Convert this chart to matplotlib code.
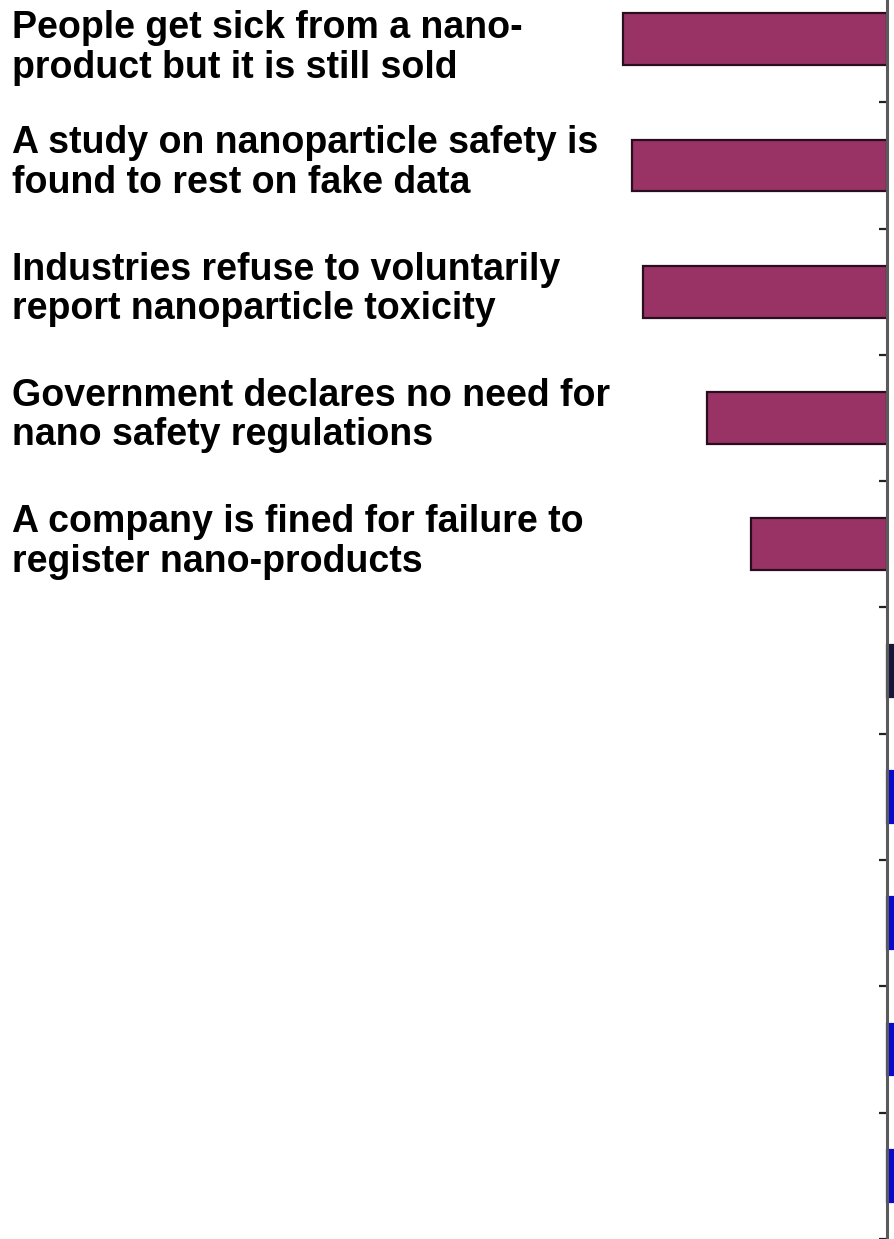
import matplotlib.pyplot as plt
from matplotlib.transforms import blended_transform_factory

plt.rcParams['font.family'] = ['Liberation Sans', 'DejaVu Sans']

# scenario labels (only the top five are printed)
labels = [
    "People get sick from a nano-\nproduct but it is still sold",
    "A study on nanoparticle safety is\nfound to rest on fake data",
    "Industries refuse to voluntarily\nreport nanoparticle toxicity",
    "Government declares no need for\nnano safety regulations",
    "A company is fined for failure to\nregister nano-products",
    "", "", "", "", "",
]
# percentages; negatives run left of the axis
values = [-60.0, -58.0, -55.5, -41.0, -31.0, 18.0, 34.0, 31.0, 28.0, 24.0]
colors = ['#993366'] * 5 + ['#16163a'] + ['#0a0acc'] * 4
edges = ['#2a0d1e'] * 5 + ['#16163a'] + ['#0a0acc'] * 4

fig = plt.figure(figsize=(8.95, 12.39), dpi=100)
# axes runs a bit past the top edge so the rows line up with the ticks
ax = fig.add_axes([600 / 895, 0.0, 295 / 895, 1263 / 1239])

ypos = list(range(len(values)))
ax.barh(ypos, values, height=0.41, color=colors, edgecolor=edges,
        linewidth=1.6, zorder=2)

ax.set_xlim(-65.2, 1.82)
ax.set_ylim(9.5, -0.5)

for s in ['top', 'right', 'bottom']:
    ax.spines[s].set_visible(False)
ax.spines['left'].set_position(('data', 0))
ax.spines['left'].set_color('#5a5a5a')
ax.spines['left'].set_linewidth(2.2)
ax.spines['left'].set_zorder(3)

ax.set_xticks([])
ax.set_yticks([i + 0.5 for i in range(len(values))])
ax.set_yticklabels([])
ax.tick_params(axis='y', direction='out', length=6, width=1.6, color='#222222')

trans = blended_transform_factory(fig.transFigure, ax.transData)
for i, lab in enumerate(labels):
    if not lab:
        continue
    dy = 0.07 if i == 0 else -0.02
    ax.text(12 / 895, i + dy, lab, transform=trans, ha='left', va='center',
            fontsize=27, fontweight='bold', linespacing=1.12, color='black')

fig.savefig('out.png', dpi=100)
